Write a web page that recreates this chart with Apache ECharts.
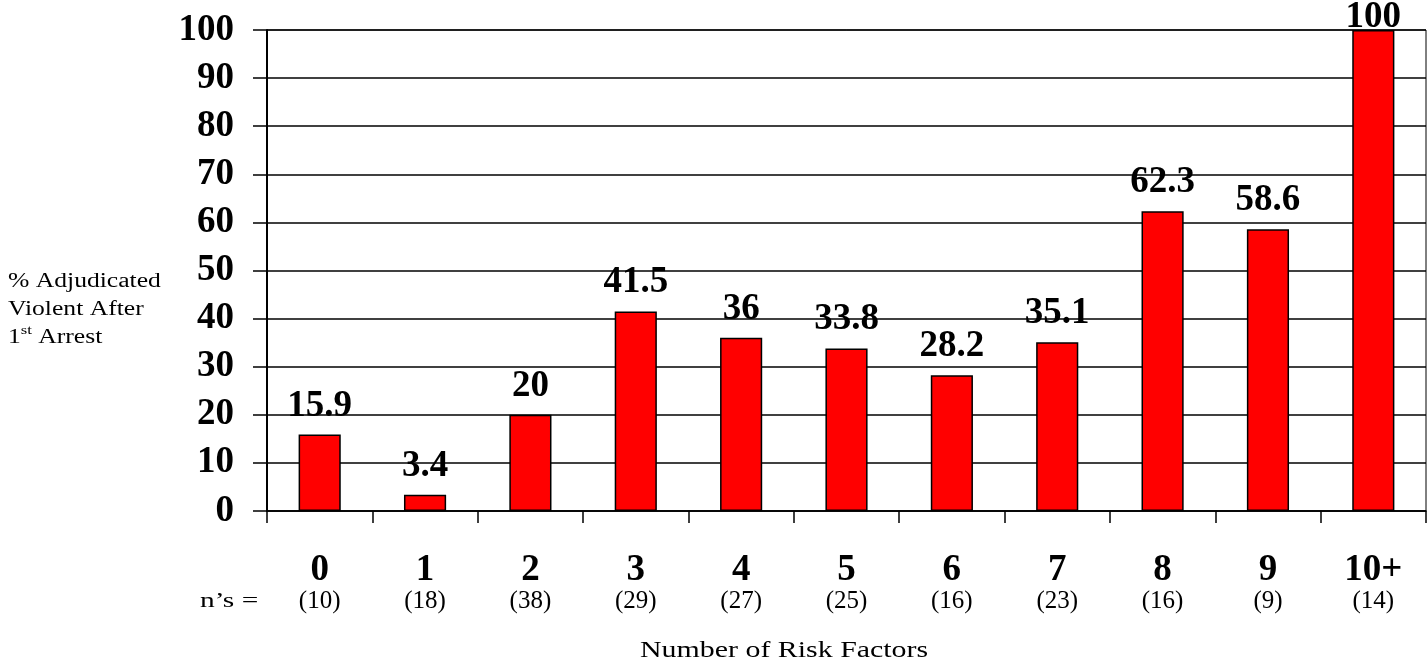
<!DOCTYPE html>
<html>
<head>
<meta charset="utf-8">
<script src="https://cdn.jsdelivr.net/npm/echarts@6/dist/echarts.min.js"></script>
<style>
  html, body { margin: 0; padding: 0; background: #fff; }
  #chart { width: 1427px; height: 661px; }
</style>
</head>
<body>
<div id="chart"></div>
<script>
// Number of risk factors per youth
const categories = ['0', '1', '2', '3', '4', '5', '6', '7', '8', '9', '10+'];
// Percentage adjudicated violent after first arrest
const values = [15.9, 3.4, 20, 41.5, 36, 33.8, 28.2, 35.1, 62.3, 58.6, 100];
// Group sizes shown under each category
const groupSizes = ['(10)', '(18)', '(38)', '(29)', '(27)', '(25)', '(16)', '(23)', '(16)', '(9)', '(14)'];

const SERIF = '"Liberation Serif", "Times New Roman", Times, serif';

const chart = echarts.init(document.getElementById('chart'));

const barData = values.map(function (v) {
  // the 100% bar reaches the top of the canvas, so its label sits lower
  if (v >= 100) return { value: v, label: { offset: [0, 16] } };
  return v;
});

chart.setOption({
  animation: false,
  backgroundColor: '#ffffff',
  grid: {
    left: 267, right: 1, top: 30, bottom: 150,
    show: true, borderColor: '#000', borderWidth: 1, backgroundColor: 'transparent'
  },
  xAxis: {
    type: 'category',
    data: categories,
    boundaryGap: true,
    axisLine: { lineStyle: { color: '#000', width: 1.5 } },
    axisTick: { show: true, length: 12, inside: false, alignWithLabel: false, lineStyle: { color: '#000', width: 1.5 } },
    axisLabel: {
      margin: 40,
      interval: 0,
      formatter: function (val, idx) {
        return '{a|' + val + '}\n{b|' + groupSizes[idx] + '}';
      },
      rich: {
        a: { fontFamily: SERIF, fontSize: 37, fontWeight: 'bold', color: '#000', lineHeight: 38 },
        b: { fontFamily: SERIF, fontSize: 25, color: '#000', lineHeight: 24 }
      }
    }
  },
  yAxis: {
    type: 'value',
    min: 0, max: 100, interval: 10,
    axisLine: { show: true, lineStyle: { color: '#000', width: 2 } },
    axisTick: { show: true, length: 14, inside: false, lineStyle: { color: '#000', width: 1.5 } },
    splitLine: { show: true, lineStyle: { color: '#000', width: 1.5 } },
    axisLabel: {
      margin: 33,
      fontFamily: SERIF, fontSize: 37, fontWeight: 'bold', color: '#000'
    }
  },
  series: [{
    type: 'bar',
    data: barData,
    barWidth: '40%',
    itemStyle: { color: '#ff0000', borderColor: '#000', borderWidth: 1.5 },
    label: {
      show: true,
      position: 'top',
      distance: 10,
      fontFamily: SERIF, fontSize: 37, fontWeight: 'bold', color: '#000'
    }
  }],
  graphic: [
    {
      type: 'text',
      x: 8, y: 268, scaleX: 1.28,
      style: {
        text: '{n|% Adjudicated}\n{n|Violent After}\n{n|1}{s|st}{n| Arrest}',
        rich: {
          n: { fontFamily: SERIF, fontSize: 20, color: '#000', lineHeight: 28 },
          s: { fontFamily: SERIF, fontSize: 13, color: '#000', lineHeight: 28, verticalAlign: 'top', padding: [0, 0, 8, 0] }
        }
      }
    },
    {
      type: 'text',
      x: 200, y: 591, scaleX: 1.4,
      style: { text: 'n\u2019s =', fontFamily: SERIF, fontSize: 21, fill: '#000' }
    },
    {
      type: 'text',
      x: 640, y: 639, scaleX: 1.3,
      style: { text: 'Number of Risk Factors', fontFamily: SERIF, fontSize: 23, fill: '#000' }
    }
  ]
});
</script>
</body>
</html>
